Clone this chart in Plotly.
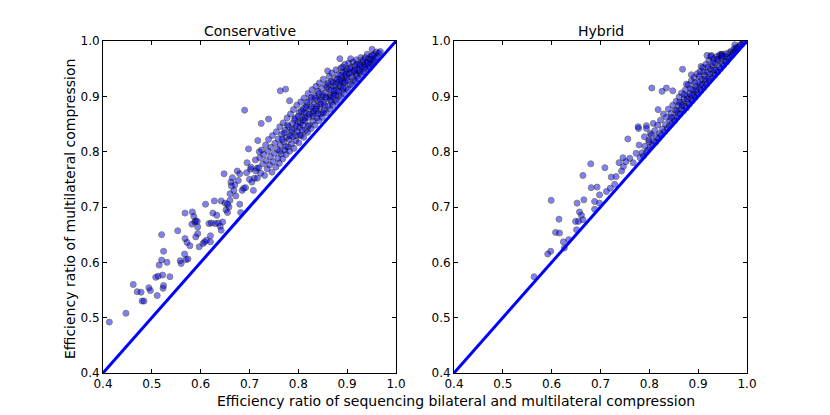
import plotly.graph_objects as go

# ---------------- data ----------------
panel_titles = ["Conservative", "Hybrid"]
x_axis_title = "Efficiency ratio of sequencing bilateral and multilateral compression"
y_axis_title = "Efficiency ratio of multilateral compression"
tick_values = [0.4, 0.5, 0.6, 0.7, 0.8, 0.9, 1.0]
tick_labels = ["0.4", "0.5", "0.6", "0.7", "0.8", "0.9", "1.0"]
diag_x = [0.4, 1.0]
diag_y = [0.4, 1.0]

# Conservative: sparse lower part (x, y)
cons_sparse = [
    [0.413, 0.492], [0.447, 0.508], [0.462, 0.560], [0.470, 0.547], [0.478, 0.546],
    [0.480, 0.530], [0.484, 0.530], [0.494, 0.554], [0.497, 0.549], [0.508, 0.573],
    [0.511, 0.540], [0.513, 0.575], [0.515, 0.595], [0.520, 0.604], [0.520, 0.650],
    [0.522, 0.577], [0.523, 0.553], [0.524, 0.558], [0.524, 0.620], [0.531, 0.600],
    [0.537, 0.574], [0.553, 0.657], [0.558, 0.603], [0.560, 0.598], [0.567, 0.615],
    [0.568, 0.689], [0.568, 0.643], [0.570, 0.605], [0.574, 0.606], [0.572, 0.636],
    [0.578, 0.630], [0.582, 0.669], [0.583, 0.691], [0.586, 0.683], [0.588, 0.673],
    [0.590, 0.675], [0.593, 0.674], [0.594, 0.664], [0.590, 0.646], [0.594, 0.652],
    [0.597, 0.628], [0.605, 0.634], [0.608, 0.637], [0.610, 0.705], [0.612, 0.640],
    [0.617, 0.670], [0.620, 0.648], [0.620, 0.637], [0.622, 0.671], [0.625, 0.689],
    [0.628, 0.711], [0.630, 0.670], [0.633, 0.685], [0.636, 0.671], [0.640, 0.665],
    [0.642, 0.658], [0.642, 0.711], [0.645, 0.673], [0.648, 0.760], [0.650, 0.707],
    [0.652, 0.695], [0.655, 0.690], [0.658, 0.700], [0.660, 0.724], [0.660, 0.712],
    [0.662, 0.745], [0.665, 0.753], [0.668, 0.730], [0.670, 0.740], [0.672, 0.720],
    [0.675, 0.765], [0.680, 0.760], [0.680, 0.705], [0.682, 0.690], [0.685, 0.730],
    [0.688, 0.734], [0.690, 0.875], [0.692, 0.735], [0.695, 0.780], [0.698, 0.805],
    [0.700, 0.750], [0.702, 0.768], [0.705, 0.745], [0.708, 0.730], [0.710, 0.752],
    [0.712, 0.785], [0.715, 0.770], [0.717, 0.820], [0.720, 0.800], [0.724, 0.851],
    [0.739, 0.859], [0.763, 0.910], [0.774, 0.913], [0.782, 0.892], [0.655, 0.705],
    [0.663, 0.738], [0.677, 0.748], [0.694, 0.762], [0.703, 0.772], [0.713, 0.765],
]

# Conservative: dense upper cloud (x, y)
cons_cloud = [
    [0.716, 0.752], [0.719, 0.771], [0.721, 0.789], [0.723, 0.761], [0.725, 0.803],
    [0.727, 0.778], [0.729, 0.795], [0.731, 0.757], [0.733, 0.812], [0.734, 0.784],
    [0.736, 0.769], [0.738, 0.801], [0.739, 0.822], [0.741, 0.776], [0.743, 0.791],
    [0.744, 0.808], [0.746, 0.763], [0.747, 0.829], [0.748, 0.782],
    [0.751, 0.797], [0.752, 0.815], [0.754, 0.772], [0.755, 0.836], [0.757, 0.804],
    [0.758, 0.788], [0.759, 0.823], [0.761, 0.779], [0.762, 0.845], [0.763, 0.812],
    [0.765, 0.796], [0.766, 0.831], [0.768, 0.787], [0.769, 0.852], [0.770, 0.818],
    [0.772, 0.803], [0.773, 0.839], [0.775, 0.795], [0.776, 0.826], [0.777, 0.861],
    [0.779, 0.809], [0.780, 0.845],
    [0.781, 0.822], [0.782, 0.801], [0.784, 0.868], [0.785, 0.835], [0.786, 0.814],
    [0.788, 0.851], [0.789, 0.827], [0.790, 0.876], [0.791, 0.806], [0.793, 0.842],
    [0.794, 0.861], [0.795, 0.820], [0.797, 0.884], [0.798, 0.836], [0.799, 0.853],
    [0.801, 0.816], [0.802, 0.871], [0.803, 0.844], [0.805, 0.890], [0.806, 0.829],
    [0.807, 0.862], [0.809, 0.848], [0.810, 0.878],
    [0.811, 0.826], [0.812, 0.897], [0.813, 0.856], [0.815, 0.838], [0.816, 0.869],
    [0.817, 0.884], [0.819, 0.835], [0.820, 0.905], [0.821, 0.862], [0.822, 0.848],
    [0.824, 0.877], [0.825, 0.893], [0.826, 0.842], [0.828, 0.912], [0.829, 0.869],
    [0.830, 0.855], [0.832, 0.886], [0.833, 0.901], [0.834, 0.848], [0.836, 0.918],
    [0.837, 0.874], [0.838, 0.861], [0.839, 0.893], [0.840, 0.909],
    [0.842, 0.856], [0.843, 0.924], [0.844, 0.881], [0.846, 0.868], [0.847, 0.899],
    [0.848, 0.914], [0.849, 0.862], [0.851, 0.931], [0.852, 0.889], [0.853, 0.875],
    [0.855, 0.906], [0.856, 0.921], [0.857, 0.870], [0.858, 0.896], [0.860, 0.946],
    [0.861, 0.882], [0.862, 0.913], [0.863, 0.936], [0.865, 0.877], [0.866, 0.902],
    [0.867, 0.927], [0.868, 0.889], [0.869, 0.942],
    [0.871, 0.884], [0.872, 0.918], [0.873, 0.904], [0.875, 0.932], [0.876, 0.893],
    [0.877, 0.948], [0.878, 0.911], [0.879, 0.890], [0.881, 0.925], [0.882, 0.939],
    [0.883, 0.901], [0.885, 0.968], [0.886, 0.917], [0.887, 0.951], [0.888, 0.898],
    [0.889, 0.933], [0.890, 0.910], [0.891, 0.944], [0.893, 0.924], [0.894, 0.905],
    [0.895, 0.958], [0.896, 0.937], [0.898, 0.915], [0.899, 0.949],
    [0.901, 0.928], [0.902, 0.912], [0.903, 0.960], [0.904, 0.941], [0.906, 0.922],
    [0.907, 0.968], [0.908, 0.952], [0.909, 0.934], [0.911, 0.920], [0.912, 0.962],
    [0.913, 0.945], [0.914, 0.930], [0.916, 0.955], [0.917, 0.927], [0.918, 0.941],
    [0.919, 0.966], [0.921, 0.937], [0.922, 0.950], [0.923, 0.932], [0.925, 0.959],
    [0.926, 0.944], [0.928, 0.970], [0.929, 0.940],
    [0.931, 0.953], [0.932, 0.962], [0.934, 0.944], [0.935, 0.957], [0.937, 0.970],
    [0.938, 0.949], [0.940, 0.963], [0.941, 0.976], [0.943, 0.955], [0.944, 0.968],
    [0.946, 0.952], [0.947, 0.961], [0.949, 0.973], [0.950, 0.958], [0.951, 0.985],
    [0.953, 0.966], [0.955, 0.962], [0.956, 0.976], [0.958, 0.969], [0.960, 0.980],
    [0.962, 0.972], [0.965, 0.978], [0.968, 0.981],
]

# Conservative: extra points in the darkest part of the cloud (x, y)
cons_core = [
    [0.762, 0.801], [0.767, 0.822], [0.771, 0.834], [0.774, 0.809], [0.778, 0.848],
    [0.783, 0.829], [0.787, 0.839], [0.792, 0.858], [0.796, 0.829], [0.800, 0.864],
    [0.804, 0.852], [0.808, 0.839], [0.812, 0.871], [0.814, 0.861], [0.818, 0.889],
    [0.823, 0.867], [0.827, 0.881], [0.831, 0.873], [0.835, 0.897], [0.838, 0.882],
    [0.841, 0.869], [0.845, 0.893], [0.850, 0.902], [0.854, 0.884], [0.859, 0.917],
    [0.864, 0.899], [0.867, 0.912], [0.870, 0.925], [0.874, 0.910], [0.877, 0.902],
    [0.880, 0.931], [0.884, 0.920], [0.887, 0.938], [0.890, 0.927], [0.892, 0.915],
    [0.897, 0.945], [0.900, 0.934], [0.905, 0.950], [0.910, 0.943], [0.915, 0.947],
    [0.920, 0.958], [0.924, 0.947], [0.927, 0.956], [0.933, 0.966], [0.936, 0.952],
    [0.942, 0.960], [0.948, 0.967], [0.952, 0.974],
    [0.796, 0.847], [0.803, 0.830], [0.806, 0.874], [0.810, 0.857], [0.815, 0.880],
    [0.820, 0.846], [0.826, 0.898], [0.830, 0.864], [0.836, 0.877], [0.842, 0.905],
    [0.846, 0.886], [0.851, 0.871], [0.856, 0.899], [0.861, 0.924], [0.866, 0.893],
    [0.871, 0.900], [0.876, 0.921], [0.882, 0.909], [0.886, 0.929], [0.891, 0.953],
    [0.895, 0.926], [0.898, 0.940],
]

# Hybrid: sparse lower part (x, y)
hyb_sparse = [
    [0.564, 0.574], [0.592, 0.615], [0.598, 0.620], [0.599, 0.712], [0.608, 0.654],
    [0.616, 0.653], [0.615, 0.678], [0.624, 0.637], [0.626, 0.626], [0.635, 0.641],
    [0.649, 0.674], [0.651, 0.659], [0.652, 0.707], [0.655, 0.674], [0.657, 0.691],
    [0.661, 0.685], [0.664, 0.757], [0.666, 0.713], [0.664, 0.677], [0.680, 0.778],
    [0.681, 0.735], [0.688, 0.710], [0.688, 0.696], [0.693, 0.736], [0.698, 0.722],
    [0.698, 0.707], [0.709, 0.771], [0.712, 0.728], [0.720, 0.734], [0.722, 0.754],
    [0.729, 0.741], [0.732, 0.755], [0.738, 0.780], [0.743, 0.765], [0.746, 0.789],
    [0.747, 0.773], [0.752, 0.782], [0.756, 0.823], [0.760, 0.788], [0.767, 0.780],
    [0.773, 0.797], [0.777, 0.845], [0.778, 0.842], [0.779, 0.812], [0.794, 0.847],
    [0.794, 0.842], [0.790, 0.827], [0.799, 0.818], [0.802, 0.833], [0.805, 0.915],
    [0.808, 0.851], [0.818, 0.876], [0.826, 0.909], [0.835, 0.915], [0.848, 0.910],
    [0.868, 0.949], [0.876, 0.922], [0.886, 0.939], [0.906, 0.954], [0.918, 0.974],
    [0.927, 0.974], [0.947, 0.976], [0.975, 0.993],
]

# Hybrid: dense band just above the diagonal (x, y)
hyb_band = [
    [0.781, 0.789], [0.785, 0.798], [0.788, 0.792], [0.791, 0.810], [0.794, 0.799],
    [0.797, 0.803], [0.799, 0.821], [0.802, 0.808], [0.804, 0.830], [0.806, 0.812],
    [0.809, 0.819], [0.811, 0.838], [0.813, 0.817], [0.815, 0.826], [0.817, 0.848],
    [0.819, 0.824], [0.821, 0.833], [0.823, 0.857], [0.825, 0.830], [0.827, 0.841],
    [0.829, 0.868], [0.831, 0.836], [0.833, 0.849], [0.835, 0.862], [0.837, 0.842],
    [0.839, 0.877], [0.841, 0.846], [0.842, 0.856], [0.844, 0.869], [0.846, 0.851],
    [0.848, 0.884], [0.850, 0.862], [0.852, 0.856], [0.853, 0.875], [0.855, 0.891],
    [0.857, 0.862], [0.858, 0.870], [0.860, 0.883], [0.861, 0.899], [0.863, 0.868],
    [0.865, 0.877], [0.866, 0.906], [0.868, 0.889], [0.870, 0.874], [0.871, 0.895],
    [0.873, 0.882], [0.874, 0.912], [0.876, 0.879], [0.877, 0.900], [0.879, 0.889],
    [0.880, 0.921], [0.882, 0.886], [0.883, 0.905], [0.885, 0.896], [0.886, 0.928],
    [0.888, 0.892], [0.889, 0.912], [0.891, 0.903], [0.892, 0.934], [0.894, 0.898],
    [0.895, 0.918], [0.897, 0.908], [0.898, 0.941], [0.900, 0.904], [0.901, 0.925],
    [0.903, 0.915], [0.904, 0.945], [0.906, 0.910], [0.907, 0.931], [0.909, 0.921],
    [0.910, 0.952], [0.912, 0.916], [0.913, 0.938], [0.915, 0.927], [0.916, 0.958],
    [0.918, 0.922], [0.919, 0.944], [0.921, 0.933], [0.922, 0.965], [0.923, 0.928],
    [0.925, 0.949], [0.926, 0.972], [0.928, 0.933], [0.929, 0.955], [0.931, 0.942],
    [0.932, 0.968], [0.934, 0.938], [0.935, 0.960], [0.937, 0.948], [0.938, 0.972],
    [0.940, 0.944], [0.941, 0.965], [0.943, 0.954], [0.944, 0.975], [0.946, 0.950],
    [0.947, 0.969], [0.949, 0.959], [0.950, 0.976], [0.952, 0.956], [0.953, 0.972],
    [0.955, 0.963], [0.957, 0.977], [0.958, 0.962], [0.960, 0.971], [0.962, 0.967],
    [0.964, 0.979], [0.966, 0.971], [0.968, 0.982], [0.970, 0.975], [0.972, 0.979],
    [0.974, 0.986], [0.976, 0.981], [0.978, 0.988], [0.980, 0.985], [0.983, 0.989],
    [0.986, 0.993], [0.989, 0.994], [0.992, 0.997], [0.995, 0.999],
    [0.862, 0.889], [0.872, 0.903], [0.884, 0.914], [0.893, 0.925], [0.902, 0.936],
    [0.911, 0.944], [0.920, 0.953], [0.930, 0.961], [0.939, 0.967], [0.948, 0.973],
    [0.845, 0.862], [0.856, 0.874], [0.867, 0.884], [0.878, 0.895], [0.887, 0.902],
    [0.896, 0.912], [0.905, 0.921], [0.914, 0.931], [0.924, 0.940], [0.933, 0.948],
]

cons_points = cons_sparse + cons_cloud + cons_core
hyb_points = hyb_sparse + hyb_band
cons_x = [p[0] for p in cons_points]
cons_y = [p[1] for p in cons_points]
hyb_x = [p[0] for p in hyb_points]
hyb_y = [p[1] for p in hyb_points]

# ---------------- figure ----------------
W, H = 830, 415
FONT = "DejaVu Sans"

marker = dict(size=6, color="blue", opacity=0.5, line=dict(color="black", width=1))

fig = go.Figure()
fig.add_trace(go.Scatter(x=cons_x, y=cons_y, mode="markers", marker=marker,
                         xaxis="x", yaxis="y", showlegend=False, hoverinfo="x+y"))
fig.add_trace(go.Scatter(x=diag_x, y=diag_y, mode="lines", line=dict(color="blue", width=3),
                         xaxis="x", yaxis="y", showlegend=False))
fig.add_trace(go.Scatter(x=hyb_x, y=hyb_y, mode="markers", marker=marker,
                         xaxis="x2", yaxis="y2", showlegend=False, hoverinfo="x+y"))
fig.add_trace(go.Scatter(x=diag_x, y=diag_y, mode="lines", line=dict(color="blue", width=3),
                         xaxis="x2", yaxis="y2", showlegend=False))

axis_common = dict(range=[0.4, 1.0], tickvals=tick_values, ticktext=tick_labels,
                   ticks="inside", ticklen=4, tickwidth=1, tickcolor="black",
                   showline=True, linecolor="black", linewidth=1, mirror="allticks",
                   showgrid=False, zeroline=False, automargin=False,
                   tickfont=dict(family=FONT, size=12, color="black"))

y_dom = [1 - 373 / H, 1 - 41 / H]
ann_font = dict(family=FONT, size=14, color="black")
fig.update_layout(
    width=W, height=H, autosize=False,
    margin=dict(l=0, r=0, t=0, b=0, pad=0, autoexpand=False),
    paper_bgcolor="white", plot_bgcolor="white",
    font=dict(family=FONT, color="black"),
    xaxis=dict(domain=[103 / W, 396 / W], anchor="y", **axis_common),
    yaxis=dict(domain=y_dom, anchor="x", **axis_common),
    xaxis2=dict(domain=[454 / W, 747 / W], anchor="y2", **axis_common),
    yaxis2=dict(domain=y_dom, anchor="x2", **axis_common),
    annotations=[
        dict(text=panel_titles[0], x=249.5 / W, y=1 - 31 / H, xref="paper", yref="paper",
             xanchor="center", yanchor="middle", showarrow=False, font=ann_font),
        dict(text=panel_titles[1], x=600.5 / W, y=1 - 31 / H, xref="paper", yref="paper",
             xanchor="center", yanchor="middle", showarrow=False, font=ann_font),
        dict(text=x_axis_title, x=456 / W, y=1 - 401 / H, xref="paper", yref="paper",
             xanchor="center", yanchor="middle", showarrow=False, font=ann_font),
        dict(text=y_axis_title, x=70 / W, y=1 - 209 / H, xref="paper", yref="paper",
             xanchor="center", yanchor="middle", showarrow=False, textangle=-90, font=ann_font),
    ],
)

fig.write_html("out.html", config={"displayModeBar": False},
               post_script="document.body.style.margin='0';document.body.style.padding='0';")
